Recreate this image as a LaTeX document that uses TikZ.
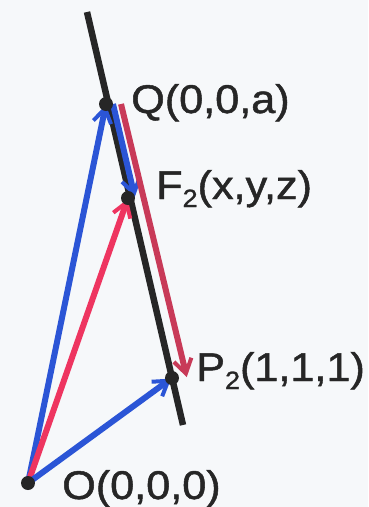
\documentclass[tikz,border=0pt]{standalone}
\usepackage{fontspec}
\setmainfont{Liberation Sans}[FakeBold=1.2]
\usetikzlibrary{arrows.meta}
\pgfdeclarelayer{under}
\pgfsetlayers{under,main}
\definecolor{bg}{HTML}{F6F8FA}
\definecolor{vblue}{HTML}{2B55D6}
\definecolor{vred}{HTML}{EE3560}
\definecolor{vdred}{HTML}{C83A58}
\definecolor{ink}{HTML}{262626}
\newcommand{\subtwo}{\raisebox{-8pt}{\fontsize{25}{25}\selectfont 2}}
\begin{document}
\begin{tikzpicture}[x=1pt,y=-1pt,
  pt/.style={circle,fill=ink,inner sep=0pt,minimum size=14pt},
  lbl/.style={anchor=base west,inner sep=0pt,text=ink,font=\fontsize{40}{42}\selectfont,xscale=1.08},
  vec/.style={line width=6pt,-{Straight Barb[length=14pt,width=18pt,line width=4pt]},shorten >=1pt},
  axis/.style={ink,line width=6.5pt}]
\useasboundingbox (0,0) rectangle (368,507);
\node[pt] (O) at (28,483) {};
\node[pt] (Q) at (106,104) {};
\node[pt] (F) at (128,198) {};
\node[pt] (P) at (172,378) {};
\coordinate (T1) at (87,12);
\coordinate (T2) at (183,425);
\begin{pgfonlayer}{under}
\fill[bg] (0,0) rectangle (368,507);
\draw[axis] (T1) -- (T2);
\draw[vec,vblue] (O.center) -- (Q.center);
\draw[vec,vred] (O.center) -- (F.center);
\draw[vec,vblue] (O.center) -- (P.center);
\draw[vec,vblue] ([xshift=7pt]Q.center) -- ([xshift=7pt]F.center);
\draw[vec,vdred] ([xshift=15pt]Q.center) -- ([xshift=15pt]P.center);
\end{pgfonlayer}
\node[lbl] (lQ) at (131,113) {Q(0,0,a)};
\node[lbl] (lF) at (156,199) {F\subtwo(x,y,z)};
\node[lbl] (lP) at (196,381) {P\subtwo(1,1,1)};
\node[lbl] (lO) at (62,499) {O(0,0,0)};
\end{tikzpicture}
\end{document}
